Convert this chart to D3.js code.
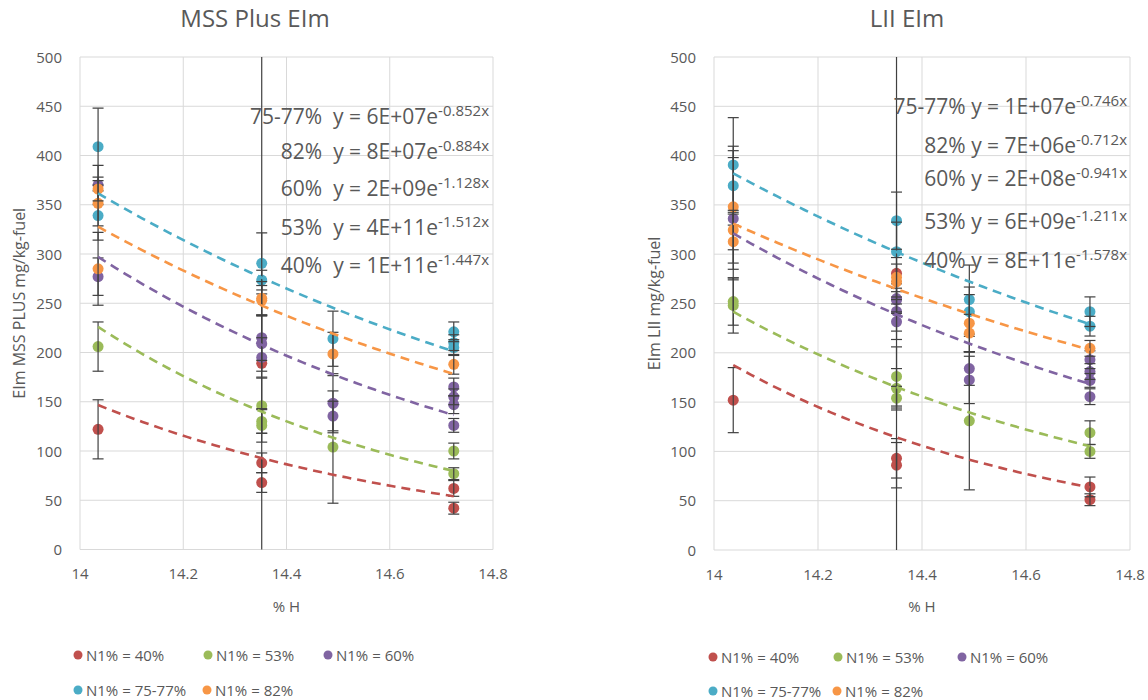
<!DOCTYPE html>
<html>
<head>
<meta charset="utf-8">
<script src="https://cdn.jsdelivr.net/npm/d3@7"></script>
<style>
  body { margin: 0; background: #fff; }
  svg { font-family: "Open Sans", sans-serif; }
  text { fill: #595959; }
</style>
</head>
<body>
<svg id="chart" width="1148" height="700"></svg>
<script>
// ---- data ----
const seriesNames = ["N1% = 40%", "N1% = 53%", "N1% = 60%", "N1% = 75-77%", "N1% = 82%"];
const seriesColors = ["#C0504D", "#9BBB59", "#8064A2", "#4BACC6", "#F79646"];
const xTicks = [14, 14.2, 14.4, 14.6, 14.8];
const yTicks = [0, 50, 100, 150, 200, 250, 300, 350, 400, 450, 500];

// [%H, EIm, error]
const mss40 = [[14.035, 122, 30], [14.352, 189, 330], [14.352, 88, 10], [14.352, 68, 10], [14.724, 62, 8], [14.724, 42, 6]];
const mss53 = [[14.035, 206, 25], [14.352, 146, 28], [14.352, 130, 12], [14.352, 126, 17], [14.49, 104, 57], [14.724, 100, 8], [14.724, 77, 6]];
const mss60 = [[14.035, 370, 20], [14.035, 277, 19], [14.352, 215, 23], [14.352, 209, 28], [14.352, 195, 20], [14.49, 148.5, 30], [14.49, 135.5, 15], [14.724, 165, 9], [14.724, 155, 8], [14.724, 147, 9], [14.724, 126, 7]];
const mss75 = [[14.035, 409, 39], [14.035, 339, 25], [14.352, 290.5, 31], [14.352, 273.5, 10], [14.49, 214, 28], [14.724, 221, 10], [14.724, 210, 8], [14.724, 205, 8]];
const mss82 = [[14.035, 366, 12], [14.035, 351.5, 23], [14.035, 285, 37], [14.352, 255, 17], [14.352, 253, 15], [14.49, 198.5, 22], [14.724, 188, 10]];

const lii40 = [[14.037, 152, 33], [14.351, 280.6, 300], [14.351, 93, 20], [14.351, 86, 23], [14.723, 64, 10], [14.723, 51, 6]];
const lii53 = [[14.037, 252, 24], [14.037, 248, 28], [14.351, 176, 30], [14.351, 164, 20], [14.351, 154, 12], [14.491, 131, 70], [14.723, 119, 12], [14.723, 100, 7]];
const lii60 = [[14.037, 336, 62], [14.351, 255, 15], [14.351, 253.5, 12], [14.351, 242, 20], [14.351, 231.5, 18], [14.491, 184, 17], [14.491, 172.5, 24], [14.723, 193, 9], [14.723, 181, 8], [14.723, 172, 7], [14.723, 155.5, 8]];
const lii75 = [[14.037, 390.5, 48], [14.037, 369.5, 40], [14.351, 334, 29], [14.351, 302.5, 30], [14.491, 254, 35], [14.491, 241.7, 25], [14.723, 241.7, 15], [14.723, 227, 10]];
const lii82 = [[14.037, 348, 57], [14.037, 324.5, 20], [14.037, 312.7, 28], [14.351, 276.6, 20], [14.351, 272, 18], [14.491, 230, 29], [14.491, 220, 19], [14.723, 204.5, 8]];

// exponential trendlines: value at first x, exponent from the label
const mssTrendRange = [14.035, 14.724];
const mssTrendStart = [146.7, 226, 297, 361.6, 327.7];
const mssTrendExp = [-1.447, -1.512, -1.128, -0.852, -0.884];
const liiTrendRange = [14.037, 14.723];
const liiTrendStart = [187.6, 241.7, 321, 382, 331];
const liiTrendExp = [-1.578, -1.211, -0.941, -0.746, -0.712];

// equation labels, top to bottom
const mssEqLabels = [["75-77%  y = 6E+07e", "-0.852x"], ["82%  y = 8E+07e", "-0.884x"], ["60%  y = 2E+09e", "-1.128x"], ["53%  y = 4E+11e", "-1.512x"], ["40%  y = 1E+11e", "-1.447x"]];
const liiEqLabels = [["75-77% y = 1E+07e", "-0.746x"], ["82% y = 7E+06e", "-0.712x"], ["60% y = 2E+08e", "-0.941x"], ["53% y = 6E+09e", "-1.211x"], ["40% y = 8E+11e", "-1.578x"]];

const svg = d3.select("#chart");

const drawPanel = (cfg) => {
    const x = d3.scaleLinear().domain([14, 14.8]).range([cfg.left, cfg.right]);
    const y = d3.scaleLinear().domain([0, 500]).range([cfg.bottom, cfg.top]);
    const g = svg.append("g");

    // title
    g.append("text")
        .attr("x", cfg.titleX)
        .attr("y", 27)
        .attr("text-anchor", "middle")
        .attr("font-size", 24)
        .text(cfg.title);

    // gridlines
    g.append("g").selectAll("line").data(yTicks).join("line")
        .attr("x1", cfg.left).attr("x2", cfg.right)
        .attr("y1", d => y(d)).attr("y2", d => y(d))
        .attr("stroke", "#d9d9d9");
    g.append("g").selectAll("line").data(xTicks).join("line")
        .attr("y1", cfg.top).attr("y2", cfg.bottom)
        .attr("x1", d => x(d)).attr("x2", d => x(d))
        .attr("stroke", "#d9d9d9");

    // tick labels
    g.append("g").selectAll("text").data(yTicks).join("text")
        .attr("x", cfg.left - 18)
        .attr("y", d => y(d) + 5.5)
        .attr("text-anchor", "end")
        .attr("font-size", 15)
        .text(d => d);
    g.append("g").selectAll("text").data(xTicks).join("text")
        .attr("x", d => x(d))
        .attr("y", cfg.bottom + 29.5)
        .attr("text-anchor", "middle")
        .attr("font-size", 15)
        .text(d => d);

    // axis titles
    g.append("text")
        .attr("x", (cfg.left + cfg.right) / 2)
        .attr("y", 612)
        .attr("text-anchor", "middle")
        .attr("font-size", 15)
        .text("% H");
    g.append("text")
        .attr("transform", `translate(${cfg.yTitleX},${(cfg.top + cfg.bottom) / 2}) rotate(-90)`)
        .attr("text-anchor", "middle")
        .attr("font-size", 16)
        .text(cfg.yTitle);

    const clipId = "clip" + cfg.left;
    svg.append("clipPath").attr("id", clipId)
        .append("rect")
        .attr("x", cfg.left).attr("y", cfg.top)
        .attr("width", cfg.right - cfg.left).attr("height", cfg.bottom - cfg.top);

    const plot = g.append("g").attr("clip-path", `url(#${clipId})`);

    // markers then error bars, series by series
    cfg.series.forEach((pts, i) => {
        const s = plot.append("g");
        s.selectAll("circle").data(pts).join("circle")
            .attr("cx", d => x(d[0]))
            .attr("cy", d => y(d[1]))
            .attr("r", 5.5)
            .attr("fill", seriesColors[i]);
        const eb = s.append("g").attr("stroke", "#404040").attr("stroke-width", 1.2);
        eb.selectAll("line.v").data(pts).join("line").attr("class", "v")
            .attr("x1", d => x(d[0])).attr("x2", d => x(d[0]))
            .attr("y1", d => y(d[1] - d[2])).attr("y2", d => y(d[1] + d[2]));
        eb.selectAll("line.hi").data(pts).join("line").attr("class", "hi")
            .attr("x1", d => x(d[0]) - 5.5).attr("x2", d => x(d[0]) + 5.5)
            .attr("y1", d => y(d[1] + d[2])).attr("y2", d => y(d[1] + d[2]));
        eb.selectAll("line.lo").data(pts).join("line").attr("class", "lo")
            .attr("x1", d => x(d[0]) - 5.5).attr("x2", d => x(d[0]) + 5.5)
            .attr("y1", d => y(d[1] - d[2])).attr("y2", d => y(d[1] - d[2]));
    });

    // trendlines
    const line = d3.line().x(d => x(d[0])).y(d => y(d[1]));
    const [x0, x1] = cfg.trendRange;
    const xs = d3.range(0, 41).map(k => x0 + (x1 - x0) * k / 40);
    cfg.trendStart.forEach((v0, i) => {
        const b = cfg.trendExp[i];
        plot.append("path")
            .attr("d", line(xs.map(xx => [xx, v0 * Math.exp(b * (xx - x0))])))
            .attr("fill", "none")
            .attr("stroke", seriesColors[i])
            .attr("stroke-width", 2.6)
            .attr("stroke-dasharray", "9,6");
    });

    // equation labels
    cfg.eqLabels.forEach((lab, i) => {
        const t = g.append("text")
            .attr("x", cfg.eqX)
            .attr("y", cfg.eqY[i])
            .attr("text-anchor", "end")
            .attr("font-size", 21)
            .style("white-space", "pre");
        t.append("tspan").text(lab[0]);
        t.append("tspan").attr("dy", -8).attr("font-size", 15).text(lab[1]);
    });

    // legend
    seriesNames.forEach((name, i) => {
        const lx = cfg.legendX[i], ly = cfg.legendY[i];
        g.append("circle").attr("cx", lx).attr("cy", ly).attr("r", 4.5).attr("fill", seriesColors[i]);
        g.append("text").attr("x", lx + 8).attr("y", ly + 5.5)
            .attr("font-size", 15).text(name);
    });
};

drawPanel({
    title: "MSS Plus EIm", titleX: 255,
    yTitle: "EIm MSS PLUS mg/kg-fuel",
    left: 80, right: 493, top: 57, bottom: 549.5,
    yTitleX: 25,
    series: [mss40, mss53, mss60, mss75, mss82],
    trendRange: mssTrendRange, trendStart: mssTrendStart, trendExp: mssTrendExp,
    eqLabels: mssEqLabels, eqX: 489, eqY: [124, 159, 195.5, 234.5, 272.5],
    legendX: [78, 208, 328, 78, 207], legendY: [655, 655, 655, 690, 690]
});

drawPanel({
    title: "LII EIm", titleX: 907,
    yTitle: "EIm LII mg/kg-fuel",
    left: 714, right: 1130, top: 57, bottom: 550,
    yTitleX: 660,
    series: [lii40, lii53, lii60, lii75, lii82],
    trendRange: liiTrendRange, trendStart: liiTrendStart, trendExp: liiTrendExp,
    eqLabels: liiEqLabels, eqX: 1127, eqY: [114, 152.5, 185.5, 229, 267.5],
    legendX: [713, 838, 962, 713, 837], legendY: [657, 657, 657, 691, 691]
});
</script>
</body>
</html>
